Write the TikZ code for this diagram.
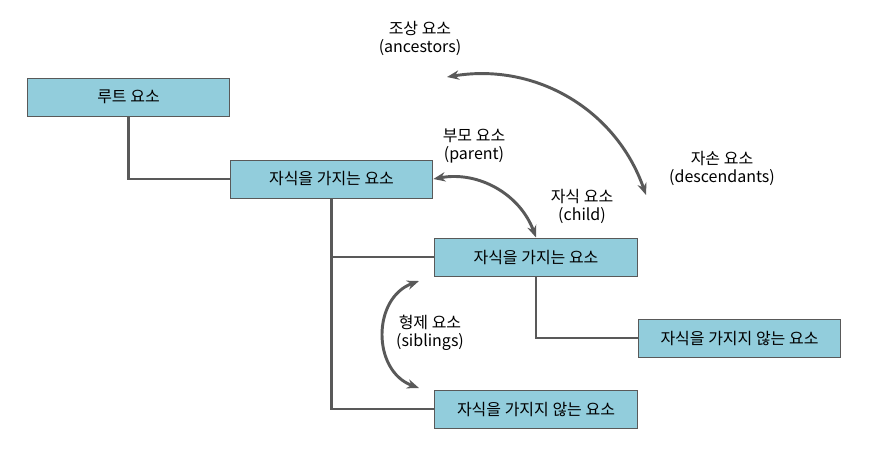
\documentclass[tikz,border=0pt]{standalone}
\usepackage{fontspec}
\setmainfont{Noto Sans CJK KR}
\usepackage{xcolor}
\usetikzlibrary{arrows.meta,positioning}
\definecolor{boxfill}{HTML}{92CDDC}
\definecolor{linegray}{HTML}{595959}
\begin{document}
\begin{tikzpicture}[
    x=0.75pt, y=-0.75pt,
    every node/.style={font=\fontsize{12pt}{13.5pt}\selectfont},
    elembox/.style={draw=linegray, line width=0.75pt, fill=boxfill, minimum width=152pt, minimum height=28.5pt, inner sep=0pt},
    link/.style={draw=linegray, line width=2.2pt},
    rel/.style={{Stealth[length=9pt,width=7pt]}-{Stealth[length=9pt,width=7pt]}, draw=linegray, line width=2.2pt},
    tag/.style={align=center, inner sep=1pt}
]
\useasboundingbox (0,0) rectangle (872,462);

\node[elembox] (root) at (128.5,97) {루트 요소};
\node[elembox] (parent) at (331.5,179) {자식을 가지는 요소};
\node[elembox] (child) at (536,257) {자식을 가지는 요소};
\node[elembox] (grandleaf) at (739.5,338) {자식을 가지지 않는 요소};
\node[elembox] (leaf) at (536,409) {자식을 가지지 않는 요소};

\draw[link] (root.south) |- (parent.west);
\draw[link] (parent.south) |- (child.west);
\draw[link] (parent.south) |- (leaf.west);
\draw[link] (child.south) |- (grandleaf.west);

\coordinate (ancTip) at (447,77);
\coordinate (descTip) at (646,195);
\coordinate (sibTop) at (419,281);
\coordinate (sibBot) at (419,388);

\draw[rel] (ancTip) to[bend left=40] (descTip);
\draw[rel] (parent.east) to[bend left=40] (child.north);
\draw[rel] (sibTop) to[bend right=70, looseness=1.2] (sibBot);

\node[tag] (ancLbl) at (420,38) {조상 요소\\(ancestors)};
\node[tag] (descLbl) at (722,168) {자손 요소\\(descendants)};
\node[tag] (parLbl) at (474,146) {부모 요소\\(parent)};
\node[tag] (chiLbl) at (582,206) {자식 요소\\(child)};
\node[tag] (sibLbl) at (430,333) {형제 요소\\(siblings)};
\end{tikzpicture}
\end{document}
